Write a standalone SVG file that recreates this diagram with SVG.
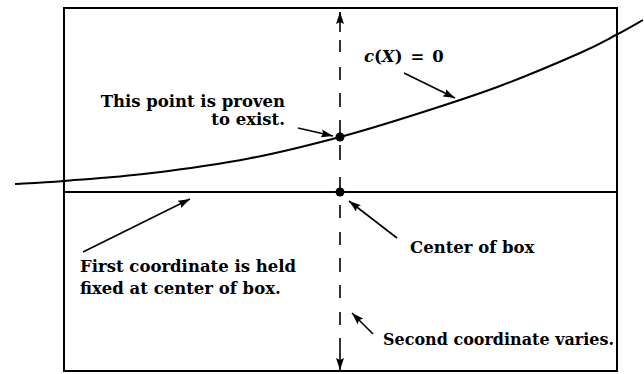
<svg xmlns="http://www.w3.org/2000/svg" width="644" height="374" viewBox="0 0 644 374">
<style>
.lbl{font-family:"DejaVu Serif","Liberation Serif",serif;font-weight:bold;font-size:16.5px;fill:#000}
.ln{fill:none;stroke:#000;stroke-width:2}
.ar{fill:none;stroke:#000;stroke-width:1.6}
</style>
<defs>
<marker id="ah" viewBox="0 0 12 8" refX="12" refY="4" markerWidth="12" markerHeight="8" markerUnits="userSpaceOnUse" orient="auto">
<path d="M0,0 L12,4 L0,8 L2,4 Z" fill="#000"/>
</marker>
</defs>
<rect width="644" height="374" fill="#fff"/>
<g id="box">
<rect x="64" y="8" width="553" height="363" class="ln"/>
<line x1="64" y1="192" x2="617" y2="192" class="ln"/>
</g>
<g id="curve">
<path class="ln" stroke-width="2.2" d="M15,184 C23.2,183.5 41.5,182.8 64,181 C86.5,179.2 119,177.1 150,173.3 C181,169.5 218.3,164.4 250,158.3 C281.7,152.25 311.7,144.55 340,137 C368.3,129.45 393.3,121.5 420,113 C446.7,104.5 473.3,96 500,86 C526.7,76 560.7,61.5 580,53 C599.3,44.5 605.5,40.5 616,35 C626.5,29.5 638.5,22.5 643,20"/>
</g>
<g id="points">
<circle cx="340" cy="137" r="4.5" fill="#000"/>
<circle cx="340" cy="192" r="4.5" fill="#000"/>
</g>
<g id="connectors">
<path class="ar" d="M340,40 L340,52 M340,67 L340,80 M340,93 L340,107 M340,120 L340,133 M340,145 L340,160 M340,177 L340,190 M340,205 L340,218 M340,232 L340,245 M340,258 L340,272 M340,285 L340,298 M340,312 L340,325"/>
<line x1="340" y1="32" x2="340" y2="12" class="ar" marker-end="url(#ah)"/>
<line x1="340" y1="338" x2="340" y2="370" class="ar" marker-end="url(#ah)"/>
<line x1="404" y1="73" x2="455" y2="98" class="ar" marker-end="url(#ah)"/>
<line x1="298" y1="128" x2="333" y2="136" class="ar" marker-end="url(#ah)"/>
<line x1="83" y1="252" x2="190" y2="199" class="ar" marker-end="url(#ah)"/>
<line x1="397" y1="238" x2="349" y2="201" class="ar" marker-end="url(#ah)"/>
<line x1="373" y1="334" x2="352" y2="313" class="ar" marker-end="url(#ah)"/>
</g>
<g id="label-cx">
<text class="lbl" x="364" y="62" font-size="18"><tspan font-style="italic">c</tspan>(<tspan font-style="italic">X</tspan>)<tspan dx="8">=</tspan><tspan dx="8">0</tspan></text>
</g>
<g id="label-point">
<text class="lbl" x="285" y="107" text-anchor="end">This point is proven</text>
<text class="lbl" x="285" y="125" text-anchor="end">to exist.</text>
</g>
<g id="label-first">
<text class="lbl" x="80" y="272">First coordinate is held</text>
<text class="lbl" x="80" y="294">fixed at center of box.</text>
</g>
<g id="label-center">
<text class="lbl" x="410" y="253">Center of box</text>
</g>
<g id="label-second">
<text class="lbl" x="383" y="345" textLength="231" lengthAdjust="spacingAndGlyphs">Second coordinate varies.</text>
</g>
</svg>
